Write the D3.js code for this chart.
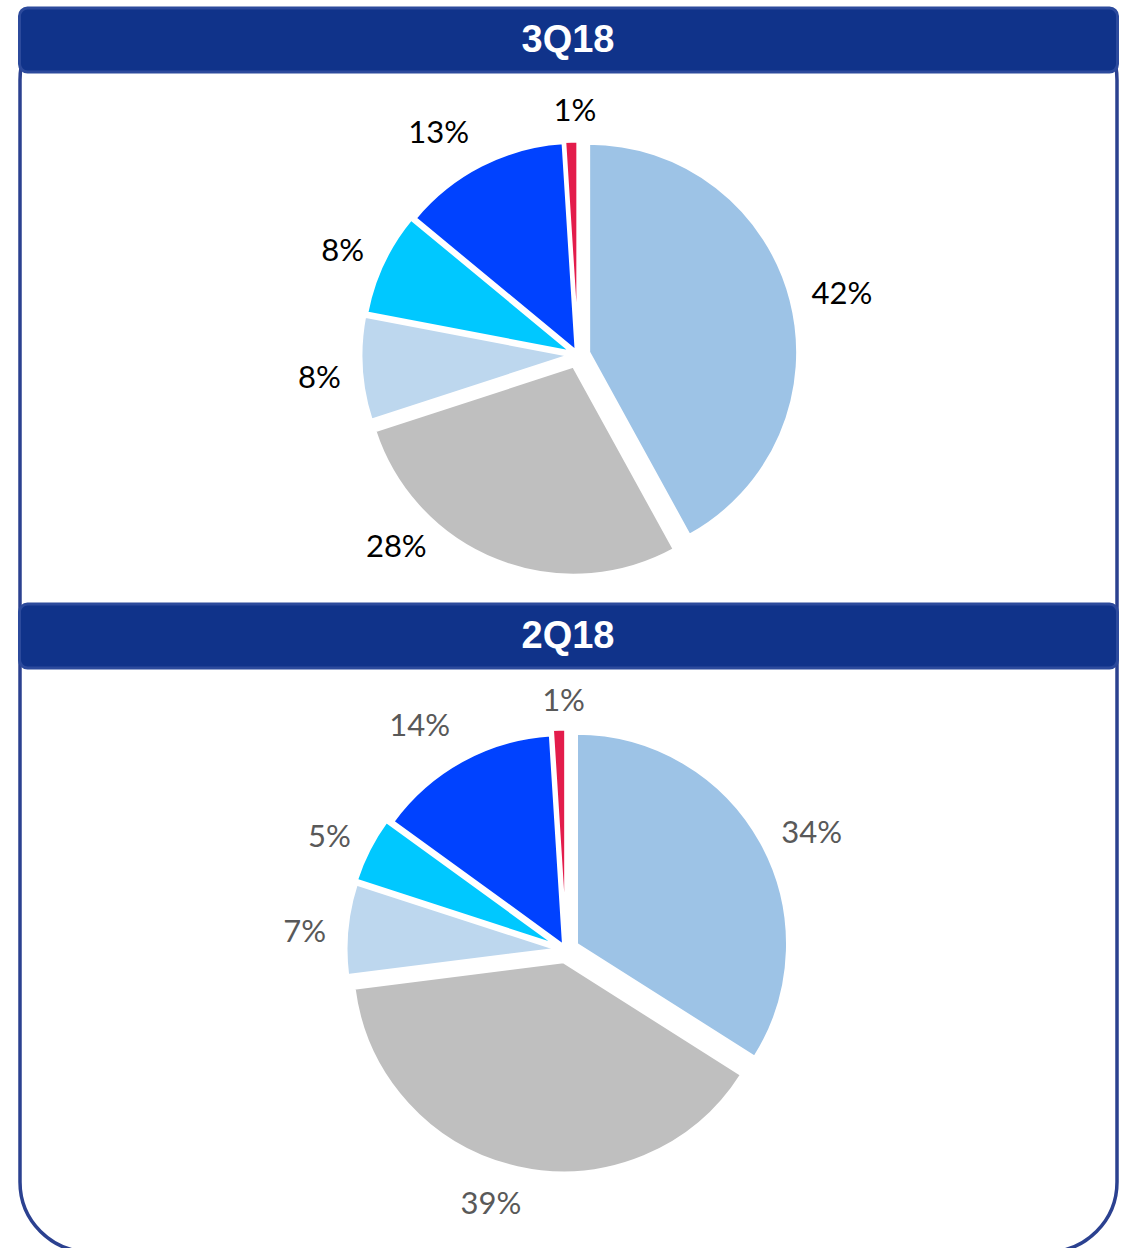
<!DOCTYPE html>
<html>
<head>
<meta charset="utf-8">
<script src="https://cdn.jsdelivr.net/npm/d3@7"></script>
<style>
  body { margin: 0; background: #fff; }
</style>
</head>
<body>
<svg width="1124" height="1248"></svg>
<script>
// data
const quarters = ["3Q18", "2Q18"];
const values3Q18 = [42, 28, 8, 8, 13, 1];
const values2Q18 = [34, 39, 7, 5, 14, 1];
const sliceColors = ["#9dc3e6", "#bfbfbf", "#bdd7ee", "#00c8ff", "#0042ff", "#e31c4b"];

// layout for each panel (explode / label nudges in px and degrees)
const panels = [
  { title: quarters[0], values: values3Q18, headerY: 8, cx: 578, cy: 355, r: 209,
    explode: [11, 12, 8, 6.5, 4, 5],
    labelShift: [0, 24, 0, 0, -4.4, 1.1], labelPad: [0, -11, 0, 0, 9, 5], labelColor: "#000" },
  { title: quarters[1], values: values2Q18, headerY: 604, cx: 566, cy: 950, r: 211,
    explode: [12, 12, 9, 10, 5, 10],
    labelShift: [2, 4.5, 0, 0, -3.6, 1.3], labelPad: [0, -5, 0, 0, 11, 3], labelColor: "#595959" }
];

const svg = d3.select("svg");
const width = +svg.attr("width");

// outer frame
svg.append("rect")
  .attr("x", 20).attr("y", 10)
  .attr("width", 1097).attr("height", 1242)
  .attr("rx", 70)
  .attr("fill", "none")
  .attr("stroke", "#2b4190")
  .attr("stroke-width", 3.5);

const pie = d3.pie().sort(null).value(d => d);

panels.forEach(p => {
  // header bar
  svg.append("rect")
    .attr("x", 19.5).attr("y", p.headerY)
    .attr("width", 1098).attr("height", 64)
    .attr("rx", 8)
    .attr("fill", "#10338a")
    .attr("stroke", "#2c4a9c")
    .attr("stroke-width", 3);
  svg.append("text")
    .attr("x", width / 2 + 6).attr("y", p.headerY + 30)
    .attr("dy", "0.36em")
    .attr("text-anchor", "middle")
    .attr("fill", "#fff")
    .style("font-family", "'Liberation Sans', Arial, sans-serif")
    .style("font-weight", "bold")
    .style("font-size", "38px")
    .text(p.title);

  const arc = d3.arc().innerRadius(0).outerRadius(p.r);
  const g = svg.append("g").attr("transform", `translate(${p.cx},${p.cy})`);
  const arcs = pie(p.values);

  arcs.forEach((d, i) => {
    const mid = (d.startAngle + d.endAngle) / 2;
    const ox = Math.sin(mid) * p.explode[i];
    const oy = -Math.cos(mid) * p.explode[i];

    g.append("path")
      .attr("d", arc(d))
      .attr("transform", `translate(${ox},${oy})`)
      .attr("fill", sliceColors[i])
      .attr("stroke", "#fff")
      .attr("stroke-width", 3)
      .attr("stroke-linejoin", "miter");

    // label outside the slice
    const la = mid + p.labelShift[i] * Math.PI / 180;
    const ux = Math.sin(la), uy = -Math.cos(la);
    const t = g.append("text")
      .attr("text-anchor", "middle")
      .attr("dy", "0.36em")
      .attr("fill", p.labelColor)
      .style("font-family", "Lato, 'Open Sans', sans-serif")
      .style("font-size", "31px")
      .text(d.data + "%");
    const w = t.node().getBBox().width;
    const dist = p.r + 20 + p.labelPad[i] + Math.abs(ux) * w / 2 + Math.abs(uy) * 12;
    t.attr("x", ox + ux * dist).attr("y", oy + uy * dist + 6);
  });
});
</script>
</body>
</html>
